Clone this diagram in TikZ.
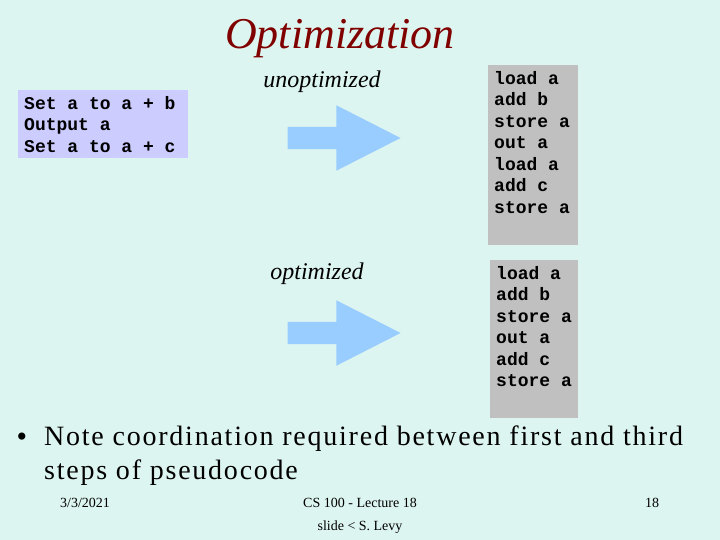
\documentclass[tikz,border=0pt]{standalone}
\usepackage{fontspec}
\setmainfont{Liberation Serif}
\setmonofont{Liberation Mono}
\newfontfamily\widefont[LetterSpace=6.3]{Liberation Serif}
\usetikzlibrary{shapes.arrows, positioning}
\definecolor{slidebg}{HTML}{DDF5F0}
\definecolor{lavender}{HTML}{CCCCFF}
\definecolor{codegray}{HTML}{C0C0C0}
\definecolor{arrowblue}{HTML}{99CCFF}
\definecolor{titlered}{HTML}{800000}

\begin{document}
\begin{tikzpicture}[
    x=1pt, y=-1pt,
    codebox/.style={rectangle, anchor=north west, inner xsep=6pt, inner ysep=6pt, font=\ttfamily\bfseries\fontsize{18}{21.5}\selectfont},
    bluearrow/.style={single arrow, fill=arrowblue, draw=none, inner sep=0pt, anchor=tip, minimum height=113pt, single arrow head extend=21.5pt, single arrow tip angle=54},
    stagelabel/.style={font=\itshape\fontsize{24}{28}\selectfont},
    footer/.style={font=\fontsize{14}{16}\selectfont}
]
    % Slide background
    \useasboundingbox (0,0) rectangle (720,540);
    \fill[slidebg] (0,0) rectangle (720,540);

    % Title
    \node[font=\itshape\fontsize{44}{52}\selectfont, text=titlered] (title) at (340,39) {Optimization};

    % Pseudocode
    \node[codebox, fill=lavender, minimum width=170pt, minimum height=66pt] (pseudo) at (18,90) {\parbox{158pt}{Set a to a + b\\Output a\\Set a to a + c}};

    % Unoptimized version
    \node[stagelabel] (unopt) at (322,82) {unoptimized};
    \node[bluearrow] (arrowA) at (401,138) {\rule{0pt}{22pt}};
    \node[codebox, fill=codegray] (codeA) at (488,65) {\parbox[t][168pt][t]{78pt}{load a\\add b\\store a\\out a\\load a\\add c\\store a}};

    % Optimized version
    \node[stagelabel] (opt) at (317,274) {optimized};
    \node[bluearrow] (arrowB) at (401,333) {\rule{0pt}{22pt}};
    \node[codebox, fill=codegray] (codeB) at (490,260) {\parbox[t][146pt][t]{76pt}{load a\\add b\\store a\\out a\\add c\\store a}};

    % Bullet
    \node[font=\fontsize{30}{30}\selectfont] (dot) at (22,440) {•};
    \node[anchor=north west, inner sep=0pt, align=left, font=\widefont\fontsize{28}{34}\selectfont] (note) at (44,426) {Note coordination required between first and third\\steps of pseudocode};

    % Footer
    \node[footer] (date) at (85,503) {3/3/2021};
    \node[footer] (course) at (360,503) {CS 100 - Lecture 18};
    \node[footer] (page) at (652,503) {18};
    \node[footer] (credit) at (360,527) {slide < S. Levy};
\end{tikzpicture}
\end{document}
